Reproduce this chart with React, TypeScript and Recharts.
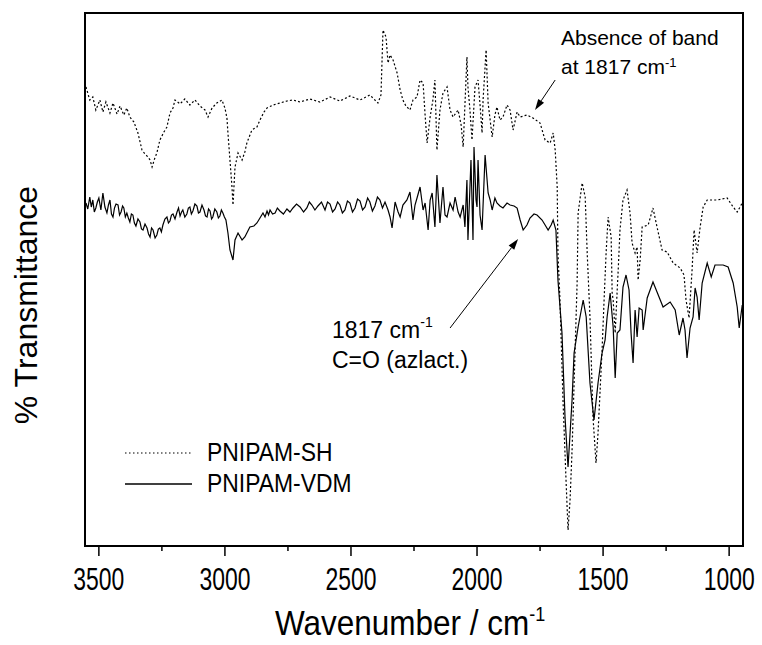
import React from "react";
import { LineChart, Line, XAxis, YAxis, Legend, ReferenceLine, ReferenceArea } from "recharts";

// PNIPAM-SH (dotted)
const shWave = [
  3551, 3536, 3524, 3512, 3496, 3484, 3472, 3456, 3444, 3428, 3416, 3401, 3389, 3377, 3361, 3345, 3329, 3317, 3305, 3297,
  3289, 3278, 3270, 3258, 3242, 3230, 3218, 3206, 3198, 3178, 3159, 3139, 3119, 3099, 3079, 3067, 3051, 3032, 3012, 3000,
  2992, 2988, 2980, 2972, 2968, 2960, 2948, 2932, 2921, 2913, 2893, 2873, 2861, 2845, 2833, 2809, 2782, 2754, 2730, 2702,
  2663, 2623, 2583, 2544, 2504, 2464, 2425, 2393, 2381, 2373, 2361, 2353, 2345, 2333, 2317, 2305, 2294, 2282, 2266, 2254,
  2238, 2226, 2214, 2206, 2198, 2186, 2175, 2167, 2159, 2147, 2135, 2119, 2107, 2095, 2075, 2063, 2055, 2040, 2036, 2028,
  2020, 2008, 1996, 1988, 1980, 1976, 1964, 1956, 1940, 1929, 1921, 1909, 1897, 1881, 1869, 1857, 1841, 1829, 1802, 1778,
  1750, 1730, 1710, 1698, 1690, 1682, 1679, 1671, 1659, 1647, 1639, 1631, 1623, 1611, 1603, 1599, 1583, 1571, 1563, 1552,
  1540, 1528, 1520, 1504, 1496, 1488, 1480, 1468, 1464, 1460, 1452, 1444, 1440, 1433, 1421, 1405, 1393, 1385, 1373, 1365,
  1361, 1353, 1345, 1321, 1302, 1286, 1266, 1246, 1222, 1194, 1179, 1171, 1159, 1147, 1139, 1127, 1115, 1103, 1087, 1048,
  1008, 984, 968, 948,
];
const shT = [
  91.8, 89.2, 89.8, 87.2, 89.2, 86.8, 88.8, 86.6, 88.6, 86.4, 88.0, 86.2, 87.6, 85.8, 84.8, 82.6, 79.2, 78.4, 77.8, 77.2,
  75.8, 77.6, 78.6, 81.2, 82.8, 83.8, 86.6, 87.6, 89.2, 88.4, 89.4, 88.2, 89.2, 88.0, 87.2, 85.8, 87.6, 88.6, 89.2, 87.6,
  85.6, 82.6, 77.2, 71.8, 68.2, 75.8, 78.6, 77.2, 78.8, 80.6, 83.2, 83.8, 85.2, 86.8, 87.6, 88.2, 88.6, 89.0, 89.2, 88.8,
  89.4, 88.8, 89.8, 89.0, 90.0, 89.2, 90.2, 88.6, 90.2, 103.2, 101.8, 96.6, 98.2, 97.2, 94.6, 91.2, 89.2, 88.0, 87.2, 89.2,
  89.8, 93.2, 92.6, 86.2, 80.6, 85.8, 89.2, 93.2, 79.2, 87.2, 90.6, 91.8, 87.2, 85.8, 87.2, 84.2, 79.8, 97.8, 91.8, 87.2,
  81.2, 91.8, 93.2, 88.2, 82.6, 89.2, 99.2, 88.6, 81.8, 86.2, 87.8, 85.2, 85.8, 88.2, 87.2, 83.2, 86.8, 85.8, 86.2, 85.6,
  84.6, 81.2, 80.6, 82.6, 79.2, 71.8, 58.6, 49.2, 29.2, 13.2, 3.2, 9.2, 19.2, 39.2, 52.6, 66.6, 72.6, 69.8, 58.6, 45.8,
  25.8, 16.6, 22.6, 39.2, 49.2, 58.6, 65.8, 61.8, 50.6, 49.2, 42.6, 51.2, 55.2, 63.2, 69.2, 71.2, 66.6, 60.6, 58.6, 59.8,
  53.2, 57.2, 63.8, 64.2, 67.6, 63.8, 59.2, 58.8, 56.6, 55.6, 54.2, 49.2, 45.6, 55.2, 63.2, 58.6, 63.8, 67.8, 69.2, 69.2,
  69.6, 67.8, 66.8, 68.6,
];

// PNIPAM-VDM (solid)
const vdmWave = [
  3551, 3544, 3536, 3530, 3524, 3518, 3512, 3506, 3500, 3492, 3484, 3476, 3468, 3462, 3456, 3450, 3444, 3438, 3432, 3424,
  3418, 3412, 3406, 3401, 3395, 3389, 3383, 3377, 3371, 3365, 3359, 3353, 3345, 3337, 3331, 3325, 3317, 3309, 3303, 3297,
  3291, 3285, 3277, 3270, 3264, 3258, 3252, 3246, 3238, 3230, 3224, 3218, 3212, 3206, 3198, 3190, 3184, 3178, 3172, 3167,
  3159, 3151, 3145, 3139, 3133, 3127, 3119, 3111, 3105, 3099, 3091, 3083, 3077, 3071, 3065, 3059, 3053, 3048, 3040, 3032,
  3026, 3020, 3014, 3008, 3002, 2996, 2988, 2980, 2968, 2960, 2948, 2932, 2921, 2901, 2885, 2873, 2861, 2849, 2841, 2833,
  2827, 2821, 2811, 2801, 2792, 2782, 2768, 2754, 2742, 2730, 2716, 2702, 2688, 2675, 2665, 2655, 2643, 2631, 2617, 2603,
  2593, 2583, 2573, 2563, 2553, 2544, 2534, 2524, 2514, 2504, 2494, 2484, 2474, 2464, 2454, 2444, 2434, 2425, 2415, 2405,
  2395, 2385, 2375, 2365, 2353, 2345, 2337, 2325, 2313, 2305, 2294, 2278, 2266, 2254, 2246, 2238, 2226, 2214, 2206, 2194,
  2186, 2178, 2167, 2159, 2147, 2135, 2127, 2119, 2107, 2095, 2087, 2075, 2067, 2055, 2048, 2040, 2036, 2024, 2016, 2012,
  2004, 2000, 1996, 1988, 1980, 1968, 1956, 1948, 1940, 1929, 1921, 1909, 1897, 1881, 1869, 1853, 1841, 1829, 1817, 1802,
  1790, 1774, 1762, 1742, 1730, 1718, 1706, 1698, 1687, 1679, 1663, 1651, 1639, 1623, 1615, 1599, 1579, 1567, 1552, 1536,
  1520, 1504, 1492, 1484, 1472, 1460, 1452, 1444, 1433, 1421, 1409, 1397, 1389, 1381, 1373, 1365, 1357, 1345, 1341, 1325,
  1302, 1286, 1262, 1234, 1214, 1198, 1183, 1175, 1167, 1155, 1143, 1135, 1127, 1119, 1107, 1087, 1071, 1056, 1024, 1004,
  984, 968, 960, 948,
];
const vdmT = [
  68.6, 67.4, 69.8, 67.8, 69.2, 66.8, 67.6, 68.8, 69.6, 67.2, 70.6, 67.8, 66.6, 68.2, 69.2, 66.4, 65.8, 67.6, 68.4, 68.2,
  66.2, 66.8, 68.0, 67.6, 65.8, 66.6, 65.6, 64.8, 66.4, 66.2, 64.6, 64.0, 65.4, 64.8, 63.4, 63.2, 64.4, 63.6, 62.4, 61.8,
  63.6, 63.2, 61.6, 62.2, 63.4, 63.6, 62.8, 64.2, 65.4, 65.8, 64.6, 65.0, 66.2, 66.4, 65.4, 66.8, 67.6, 66.0, 66.8, 67.2,
  65.8, 66.4, 67.6, 67.8, 66.4, 67.0, 68.4, 68.0, 66.6, 66.8, 68.2, 67.2, 66.0, 65.8, 67.4, 67.0, 65.4, 65.8, 67.4, 66.8,
  65.6, 66.0, 67.2, 66.6, 65.8, 65.2, 62.6, 59.2, 57.2, 61.2, 62.6, 61.2, 61.8, 63.8, 64.0, 64.6, 65.6, 66.6, 65.8, 67.0,
  66.2, 67.2, 66.4, 66.6, 67.6, 67.0, 66.4, 67.4, 66.8, 67.6, 68.4, 67.8, 66.8, 67.6, 68.8, 68.2, 67.2, 68.0, 68.8, 67.2,
  68.8, 68.4, 66.8, 67.4, 68.8, 68.2, 66.6, 67.2, 69.0, 68.6, 66.8, 67.6, 69.4, 69.0, 67.2, 67.8, 69.6, 68.8, 67.0, 68.0,
  69.8, 69.2, 67.6, 68.8, 67.2, 65.8, 63.6, 68.8, 66.8, 65.8, 68.2, 69.2, 70.8, 65.2, 68.2, 69.6, 71.8, 67.2, 68.6, 63.2,
  69.2, 70.6, 63.8, 74.2, 64.6, 71.8, 66.2, 65.8, 68.6, 67.2, 69.8, 66.8, 65.8, 68.2, 63.8, 73.2, 61.2, 77.2, 61.2, 79.8,
  69.2, 67.8, 77.2, 66.2, 63.2, 78.2, 70.6, 69.2, 67.2, 69.6, 68.6, 68.0, 67.6, 68.6, 68.2, 68.0, 67.6, 65.2, 63.2, 64.2,
  65.6, 66.4, 66.2, 65.2, 64.2, 63.2, 64.2, 65.2, 63.2, 53.2, 42.6, 25.8, 15.8, 29.2, 38.6, 43.8, 49.2, 45.8, 32.6, 25.2,
  32.6, 38.6, 41.2, 45.8, 50.6, 43.8, 33.6, 42.6, 43.2, 51.8, 54.2, 51.2, 42.6, 36.6, 47.2, 41.8, 47.6, 47.2, 43.2, 49.6,
  52.8, 50.8, 47.8, 48.8, 47.2, 42.2, 45.6, 43.2, 37.6, 43.6, 45.8, 51.6, 49.8, 45.2, 52.6, 56.6, 53.8, 56.2, 56.2, 55.8,
  52.6, 47.8, 43.6, 48.2,
];

const xTicks = [3500, 3250, 3000, 2750, 2500, 2250, 2000, 1750, 1500, 1250, 1000];
const xDomain = [945, 3555];
const yDomain = [0, 106.6];

const FONT = '"Liberation Sans", Arial, Helvetica, sans-serif';

const zip = (w: number[], t: number[]) => w.map((x, i) => ({ w: x, t: t[i] }));
const shData = zip(shWave, shT);
const vdmData = zip(vdmWave, vdmT);

const AxisTick = ({ x, y, payload }: any) => {
  const major = payload.value % 500 === 0;
  return (
    <g>
      <line x1={x} x2={x} y1={y} y2={y + (major ? 10 : 5)} stroke="#000" strokeWidth={1.5} />
      {major && (
        <text
          transform={`translate(${x},${y + 44}) scale(0.74,1)`}
          textAnchor="middle"
          fontSize={31}
          fontFamily={FONT}
          fill="#000"
        >
          {payload.value}
        </text>
      )}
    </g>
  );
};

const arrowShape = (props: any) => {
  const { x1, y1, x2, y2 } = props;
  const a = Math.atan2(y2 - y1, x2 - x1);
  const len = 11;
  const half = 3.5;
  const bx = x2 - len * Math.cos(a);
  const by = y2 - len * Math.sin(a);
  const px = -Math.sin(a) * half;
  const py = Math.cos(a) * half;
  return (
    <g>
      <line x1={x1} y1={y1} x2={bx} y2={by} stroke="#000" strokeWidth={1} />
      <polygon points={`${x2},${y2} ${bx + px},${by + py} ${bx - px},${by - py}`} fill="#000" />
    </g>
  );
};

const renderLegend = () => (
  <div style={{ fontFamily: FONT, color: "#000" }}>
    {[
      { name: "PNIPAM-SH", dash: "1.5 2.5", color: "#555" },
      { name: "PNIPAM-VDM", dash: undefined, color: "#000" },
    ].map((it) => (
      <div key={it.name} style={{ display: "flex", alignItems: "center", height: 31 }}>
        <svg width={82} height={10}>
          <line x1={0} x2={67} y1={5} y2={5} stroke={it.color} strokeWidth={1.3} strokeDasharray={it.dash} />
        </svg>
        <span style={{ fontSize: 26, display: "inline-block", transform: "scale(0.88,1)", transformOrigin: "left center" }}>
          {it.name}
        </span>
      </div>
    ))}
  </div>
);

export default function App() {
  return (
    <div style={{ position: "absolute", left: 0, top: 0, width: 762, height: 645, background: "#fff" }}>
      <LineChart width={762} height={645} margin={{ top: 13, right: 19, left: 85, bottom: 0 }}>
        <XAxis
          dataKey="w"
          type="number"
          domain={xDomain}
          reversed
          allowDataOverflow
          ticks={xTicks}
          interval={0}
          tick={<AxisTick />}
          tickLine={false}
          tickSize={0}
          tickMargin={0}
          height={99}
          axisLine={{ stroke: "#000", strokeWidth: 2 }}
        />
        <YAxis type="number" domain={yDomain} allowDataOverflow tick={false} tickLine={false} width={0} axisLine={false} />
        <ReferenceArea
          x1={xDomain[0]}
          x2={xDomain[1]}
          y1={yDomain[0]}
          y2={yDomain[1]}
          fill="none"
          stroke="#000"
          strokeWidth={2}
          ifOverflow="visible"
        />
        <Line
          data={shData}
          dataKey="t"
          name="PNIPAM-SH"
          type="linear"
          stroke="#000"
          strokeWidth={1.2}
          strokeDasharray="2 2.2"
          dot={false}
          isAnimationActive={false}
        />
        <Line
          data={vdmData}
          dataKey="t"
          name="PNIPAM-VDM"
          type="linear"
          stroke="#000"
          strokeWidth={1.2}
          dot={false}
          isAnimationActive={false}
        />
        <ReferenceLine segment={[{ x: 1690, y: 93.2 }, { x: 1770, y: 87.2 }]} shape={arrowShape} ifOverflow="visible" />
        <ReferenceLine segment={[{ x: 2107, y: 43.6 }, { x: 1837, y: 61.4 }]} shape={arrowShape} ifOverflow="visible" />
        <Legend
          layout="vertical"
          align="center"
          verticalAlign="middle"
          wrapperStyle={{ left: 125, top: 437, width: 300, height: 62 }}
          content={renderLegend}
        />
      </LineChart>
      <svg
        width={762}
        height={645}
        style={{ position: "absolute", left: 0, top: 0, pointerEvents: "none" }}
        fontFamily={FONT}
        fill="#000"
      >
        <text transform="translate(37,305) rotate(-90)" textAnchor="middle" fontSize={32}>
          % Transmittance
        </text>
        <g transform="translate(275,635) scale(0.9,1)">
          <text x={0} y={0} fontSize={35}>
            Wavenumber / cm
            <tspan dy={-14} fontSize={20}>
              -1
            </tspan>
          </text>
        </g>
        <text x={561} y={45} fontSize={21}>
          Absence of band
        </text>
        <text x={561} y={74} fontSize={21}>
          at 1817 cm
          <tspan dy={-7} fontSize={13}>
            -1
          </tspan>
        </text>
        <text x={332} y={338} fontSize={23}>
          1817 cm
          <tspan dy={-11} fontSize={14}>
            -1
          </tspan>
        </text>
        <text x={332} y={368} fontSize={23}>
          C=O (azlact.)
        </text>
      </svg>
    </div>
  );
}
